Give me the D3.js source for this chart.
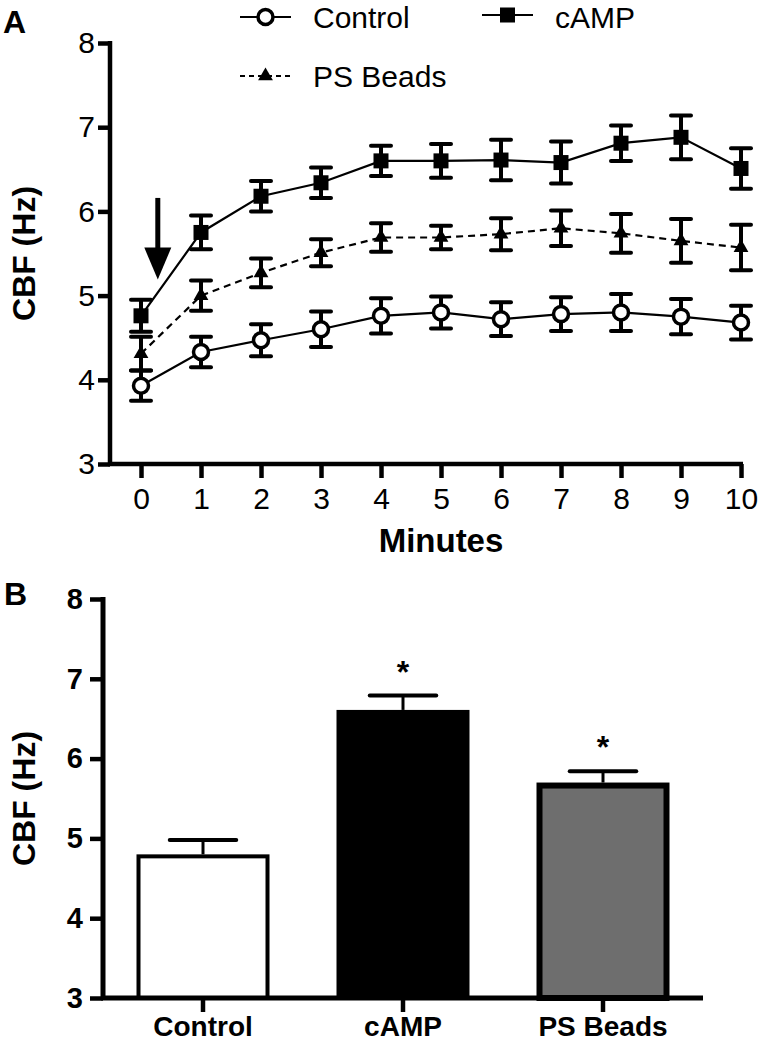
<!DOCTYPE html>
<html><head><meta charset="utf-8">
<script src="https://cdn.jsdelivr.net/npm/d3@7"></script>
<style>body{margin:0;background:#fff}text{font-family:"Liberation Sans",Arial,sans-serif;fill:#000}</style>
</head><body><svg id="c" width="760" height="1044"></svg>
<script>
// ---------- Data ----------
const minutes = [0,1,2,3,4,5,6,7,8,9,10];
const controlMean = [3.93,4.33,4.47,4.60,4.76,4.80,4.72,4.78,4.80,4.75,4.68];
const controlErr  = [0.18,0.18,0.19,0.21,0.21,0.19,0.20,0.20,0.22,0.21,0.20];
const campMean    = [4.76,5.75,6.18,6.34,6.60,6.60,6.61,6.58,6.81,6.88,6.51];
const campErr     = [0.19,0.20,0.18,0.18,0.18,0.20,0.24,0.25,0.21,0.26,0.24];
const psMean      = [4.31,5.00,5.27,5.51,5.69,5.69,5.73,5.80,5.74,5.65,5.57];
const psErr       = [0.20,0.18,0.17,0.16,0.17,0.14,0.19,0.21,0.23,0.26,0.27];
const yTicks = [3,4,5,6,7,8];
const arrowAt = {x: 0.28, top: 6.16, headBase: 5.57, tip: 5.19};

const groups = ["Control","cAMP","PS Beads"];
const groupMeans = [4.80,6.61,5.70];
const groupErr = [0.18,0.18,0.14];
const groupSig = ["","*","*"];
const groupFill = ["#ffffff","#000000","#6e6e6e"];

// ---------- Setup ----------
const svg = d3.select("#c");
const FONT = '"Liberation Sans",Arial,sans-serif';

// ================= Panel A =================
const xA = d3.scaleLinear([0,10],[141,741]);
const yA = d3.scaleLinear([3,8],[464,43]);
const axXA = 110;

const series = [
  {name:"Control", mean:controlMean, err:controlErr, marker:"circle", dash:null},
  {name:"cAMP", mean:campMean, err:campErr, marker:"square", dash:null},
  {name:"PS Beads", mean:psMean, err:psErr, marker:"triangle", dash:"7,5"}
];

const gA = svg.append("g");

// Axes
const yAxisA = gA.append("g").attr("transform",`translate(${axXA},0)`)
  .call(d3.axisLeft(yA).tickValues(yTicks).tickSize(12).tickSizeOuter(0).tickPadding(3).tickFormat(d3.format("d")));
yAxisA.select(".domain").attr("stroke","#000").attr("stroke-width",4.5)
  .attr("d",`M0,${yA(8)-2}V${yA(3)+2}`);
yAxisA.selectAll(".tick line").attr("stroke","#000").attr("stroke-width",4.5);
yAxisA.selectAll(".tick text").style("font-family",FONT).style("font-size","30px").attr("fill","#000");

const xAxisA = gA.append("g").attr("transform",`translate(0,${yA(3)})`)
  .call(d3.axisBottom(xA).tickValues(minutes).tickSize(14).tickSizeOuter(0).tickPadding(10).tickFormat(d3.format("d")));
xAxisA.select(".domain").attr("stroke","#000").attr("stroke-width",4.5)
  .attr("d",`M${axXA-2},0H${xA(10)+2}`);
xAxisA.selectAll(".tick line").attr("stroke","#000").attr("stroke-width",4.5);
xAxisA.selectAll(".tick text").style("font-family",FONT).style("font-size","30px").attr("fill","#000");

gA.append("text").attr("x",xA(5)).attr("y",552).attr("text-anchor","middle")
  .style("font-size","33px").style("font-weight","bold").text("Minutes");
gA.append("text").attr("transform",`translate(35,${(yA(8)+yA(3))/2}) rotate(-90)`)
  .attr("text-anchor","middle").style("font-size","32px").style("font-weight","bold").text("CBF (Hz)");
gA.append("text").attr("x",3).attr("y",33).style("font-size","32px").style("font-weight","bold").text("A");

// Lines
const line = d3.line().x((d,i)=>xA(minutes[i])).y(d=>yA(d));
series.forEach(s=>{
  gA.append("path").datum(s.mean).attr("d",line).attr("fill","none")
    .attr("stroke","#000").attr("stroke-width",2.2).attr("stroke-dasharray",s.dash);
});

// Error bars
series.forEach(s=>{
  const eb = gA.append("g");
  s.mean.forEach((m,i)=>{
    const x = xA(minutes[i]), e = s.err[i];
    eb.append("line").attr("x1",x).attr("x2",x).attr("y1",yA(m-e)).attr("y2",yA(m+e))
      .attr("stroke","#000").attr("stroke-width",4);
    [m-e,m+e].forEach(v=>{
      eb.append("line").attr("x1",x-10).attr("x2",x+10).attr("y1",yA(v)).attr("y2",yA(v))
        .attr("stroke","#000").attr("stroke-width",4).attr("stroke-linecap","round");
    });
  });
});

function drawMarker(g, type, x, y){
  if(type==="circle"){
    g.append("circle").attr("cx",x).attr("cy",y).attr("r",7.5)
      .attr("fill","#fff").attr("stroke","#000").attr("stroke-width",3.5);
  } else if(type==="square"){
    g.append("rect").attr("x",x-7.5).attr("y",y-7.5).attr("width",15).attr("height",15).attr("fill","#000");
  } else {
    g.append("path").attr("d",d3.symbol(d3.symbolTriangle,95)()).attr("transform",`translate(${x},${y})`).attr("fill","#000");
  }
}
series.forEach(s=>{
  const mg = gA.append("g");
  s.mean.forEach((m,i)=>drawMarker(mg,s.marker,xA(minutes[i]),yA(m)));
});

// Arrow annotation
const ax = xA(arrowAt.x);
gA.append("line").attr("x1",ax).attr("x2",ax).attr("y1",yA(arrowAt.top)).attr("y2",yA(arrowAt.headBase)+2)
  .attr("stroke","#000").attr("stroke-width",5);
gA.append("path").attr("d",`M${ax-13.5},${yA(arrowAt.headBase)}L${ax+13.5},${yA(arrowAt.headBase)}L${ax},${yA(arrowAt.tip)}Z`).attr("fill","#000");

// Legend
const legend = [
  {s:series[0], lx:240, ly:17, ty:28},
  {s:series[1], lx:482, ly:15, ty:28},
  {s:series[2], lx:240, ly:76, ty:87}
];
legend.forEach(L=>{
  const lg = gA.append("g");
  lg.append("line").attr("x1",L.lx).attr("x2",L.lx+51).attr("y1",L.ly).attr("y2",L.ly)
    .attr("stroke","#000").attr("stroke-width",2.2).attr("stroke-dasharray",L.s.dash?"5,4":null);
  drawMarker(lg,L.s.marker,L.lx+25.5,L.ly);
  lg.append("text").attr("x",L.lx+73).attr("y",L.ty).style("font-size","30px").text(L.s.name);
});

// ================= Panel B =================
const xB = d3.scaleBand(groups,[103,703]).paddingInner(0.335).paddingOuter(0.1675);
const yB = d3.scaleLinear([3,8],[998,599]);
const gB = svg.append("g");

// Bars
groups.forEach((g,i)=>{
  const sw = i===2 ? 6 : 4;
  const x0 = xB(g), w = xB.bandwidth();
  const cx = x0 + w/2;
  gB.append("line").attr("x1",cx).attr("x2",cx).attr("y1",yB(groupMeans[i])).attr("y2",yB(groupMeans[i]+groupErr[i]))
    .attr("stroke","#000").attr("stroke-width",3);
  gB.append("line").attr("x1",cx-w/4).attr("x2",cx+w/4).attr("y1",yB(groupMeans[i]+groupErr[i])).attr("y2",yB(groupMeans[i]+groupErr[i]))
    .attr("stroke","#000").attr("stroke-width",4).attr("stroke-linecap","round");
  gB.append("rect").attr("x",x0+sw/2).attr("y",yB(groupMeans[i])+sw/2)
    .attr("width",w-sw).attr("height",yB(3)-yB(groupMeans[i])-sw/2)
    .attr("fill",groupFill[i]).attr("stroke","#000").attr("stroke-width",sw);
  if(groupSig[i]){
    gB.append("text").attr("x",cx).attr("y",yB(groupMeans[i]+groupErr[i])-31+18)
      .attr("text-anchor","middle").style("font-size","32px").style("font-weight","bold").text(groupSig[i]);
  }
});

const yAxisB = gB.append("g").attr("transform","translate(103,0)")
  .call(d3.axisLeft(yB).tickValues(yTicks).tickSize(13).tickSizeOuter(0).tickPadding(7).tickFormat(d3.format("d")));
yAxisB.select(".domain").attr("stroke","#000").attr("stroke-width",5).attr("d",`M0,${yB(8)-2}V${yB(3)+2}`);
yAxisB.selectAll(".tick line").attr("stroke","#000").attr("stroke-width",4.5);
yAxisB.selectAll(".tick text").style("font-family",FONT).style("font-size","29px").style("font-weight","bold").attr("fill","#000");

const xAxisB = gB.append("g").attr("transform",`translate(0,${yB(3)})`)
  .call(d3.axisBottom(xB).tickSize(14).tickSizeOuter(0).tickPadding(4));
xAxisB.select(".domain").attr("stroke","#000").attr("stroke-width",5).attr("d",`M101,0H703`);
xAxisB.selectAll(".tick line").attr("stroke","#000").attr("stroke-width",4.5);
xAxisB.selectAll(".tick text").style("font-family",FONT).style("font-size","28px").style("font-weight","bold").attr("fill","#000");

gB.append("text").attr("transform",`translate(35,${(yB(8)+yB(3))/2}) rotate(-90)`)
  .attr("text-anchor","middle").style("font-size","32px").style("font-weight","bold").text("CBF (Hz)");
gB.append("text").attr("x",4).attr("y",605).style("font-size","32px").style("font-weight","bold").text("B");
</script></body></html>
